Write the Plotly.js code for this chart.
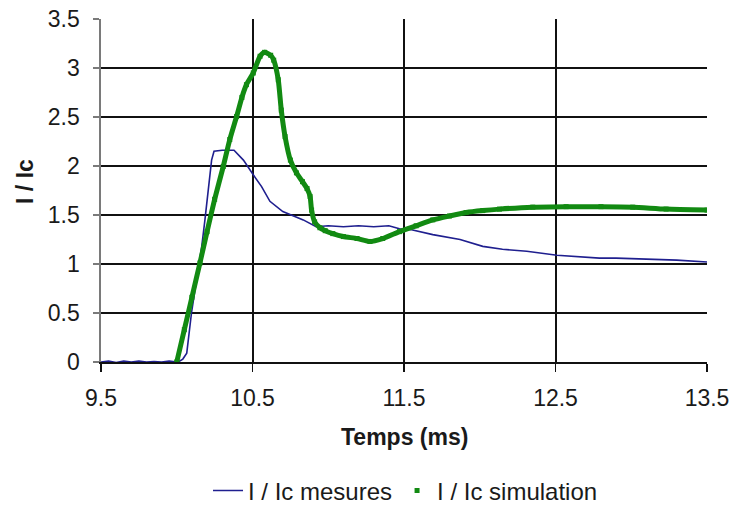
<!DOCTYPE html>
<html>
<head>
<meta charset="utf-8">
<script src="https://cdn.plot.ly/plotly-3.0.1.min.js"></script>
<style>html,body{margin:0;padding:0;background:#fff;}#chart{width:735px;height:506px;}</style>
</head>
<body>
<div id="chart"></div>
<script>
// Measured I/Ic
var measT = [9.5, 9.55, 9.6, 9.65, 9.7, 9.75, 9.8, 9.85, 9.9, 9.95, 10.0, 10.01, 10.04, 10.066, 10.098, 10.13, 10.165, 10.186, 10.209, 10.23, 10.246, 10.3, 10.378, 10.44, 10.505, 10.56, 10.615, 10.70, 10.835, 10.92, 11.0, 11.1, 11.2, 11.3, 11.4, 11.47, 11.55, 11.69, 11.87, 12.02, 12.15, 12.31, 12.51, 12.6, 12.79, 12.9, 13.12, 13.3, 13.5];
var measY = [0.0, 0.01, -0.005, 0.01, 0.0, 0.01, 0.0, 0.005, 0.0, 0.01, 0.0, 0.0, 0.03, 0.09, 0.51, 0.84, 1.18, 1.45, 1.79, 2.06, 2.15, 2.16, 2.16, 2.06, 1.91, 1.79, 1.64, 1.535, 1.45, 1.38, 1.39, 1.38, 1.39, 1.38, 1.39, 1.36, 1.35, 1.30, 1.25, 1.18, 1.15, 1.13, 1.09, 1.08, 1.06, 1.06, 1.05, 1.04, 1.02];
// Simulated I/Ic
var simT = [10.0, 10.05, 10.1, 10.153, 10.2, 10.25, 10.307, 10.35, 10.395, 10.43, 10.46, 10.505, 10.55, 10.58, 10.62, 10.64, 10.67, 10.69, 10.715, 10.75, 10.79, 10.83, 10.86, 10.88, 10.89, 10.91, 10.945, 10.98, 11.03, 11.1, 11.19, 11.275, 11.36, 11.47, 11.58, 11.69, 11.8, 11.91, 12.02, 12.13, 12.35, 12.57, 12.8, 13.01, 13.23, 13.5];
var simY = [0.0, 0.33, 0.66, 1.01, 1.33, 1.66, 1.995, 2.27, 2.505, 2.70, 2.83, 2.95, 3.12, 3.16, 3.13, 3.08, 2.88, 2.57, 2.30, 2.06, 1.93, 1.84, 1.77, 1.69, 1.55, 1.43, 1.37, 1.34, 1.31, 1.28, 1.26, 1.23, 1.26, 1.33, 1.39, 1.45, 1.49, 1.525, 1.545, 1.56, 1.58, 1.585, 1.585, 1.58, 1.56, 1.55];
var seriesNames = ["I / Ic mesures", "I / Ic simulation"];
var xTitle = "Temps (ms)";
var yTitle = "I / Ic";

var FONT = "Liberation Sans, Arial, sans-serif";
var TXT = "#1a1a1a";
var blue = "#1f1f8f";
var green = "#128a12";

var traces = [
  {x: measT, y: measY, mode: "lines", name: seriesNames[0],
   line: {color: blue, width: 1.6}},
  {x: simT, y: simY, mode: "lines", showlegend: false, hoverinfo: "skip",
   line: {color: green, width: 5, shape: "spline", smoothing: 0.6}},
  {x: simT, y: simY, mode: "markers", name: seriesNames[1],
   marker: {color: green, size: 5, symbol: "square"}}
];

var layout = {
  width: 735, height: 506,
  margin: {l: 101, r: 28, t: 19, b: 144, autoexpand: false},
  paper_bgcolor: "#fff", plot_bgcolor: "#fff",
  font: {family: FONT, size: 23, color: TXT},
  showlegend: true,
  legend: {orientation: "h", x: 0.5025, xanchor: "center", y: -0.376, yanchor: "middle",
           font: {family: FONT, size: 24, color: TXT}, bgcolor: "rgba(0,0,0,0)", itemwidth: 30},
  xaxis: {
    range: [9.5, 13.5], tick0: 9.5, dtick: 1, tickmode: "linear", automargin: false,
    showgrid: true, gridcolor: "#111", gridwidth: 2,
    showline: true, linecolor: "#111", linewidth: 2,
    ticks: "outside", ticklen: 8, tickcolor: "#111", tickwidth: 1.5,
    tickfont: {family: FONT, size: 23, color: TXT},
    ticklabelstandoff: 6,
    zeroline: false
  },
  yaxis: {
    range: [0, 3.5], tick0: 0, dtick: 0.5, tickmode: "linear", automargin: false,
    showgrid: true, gridcolor: "#111", gridwidth: 2,
    showline: true, linecolor: "#7a7a7a", linewidth: 1.6,
    ticks: "outside", ticklen: 6, tickcolor: "#7a7a7a", tickwidth: 1.5,
    tickfont: {family: FONT, size: 23, color: TXT},
    ticklabelstandoff: 9,
    zeroline: false
  },
  annotations: [
    {xref: "paper", yref: "paper", x: 0.5, y: -0.2187, xanchor: "center", yanchor: "middle",
     text: "<b>" + xTitle + "</b>", showarrow: false, font: {family: FONT, size: 23, color: TXT}},
    {xref: "paper", yref: "paper", x: -0.1254, y: 0.525, xanchor: "center", yanchor: "middle",
     text: "<b>" + yTitle + "</b>", textangle: -90, showarrow: false, font: {family: FONT, size: 23, color: TXT}}
  ]
};

Plotly.newPlot("chart", traces, layout, {displayModeBar: false, staticPlot: true});
</script>
</body>
</html>
